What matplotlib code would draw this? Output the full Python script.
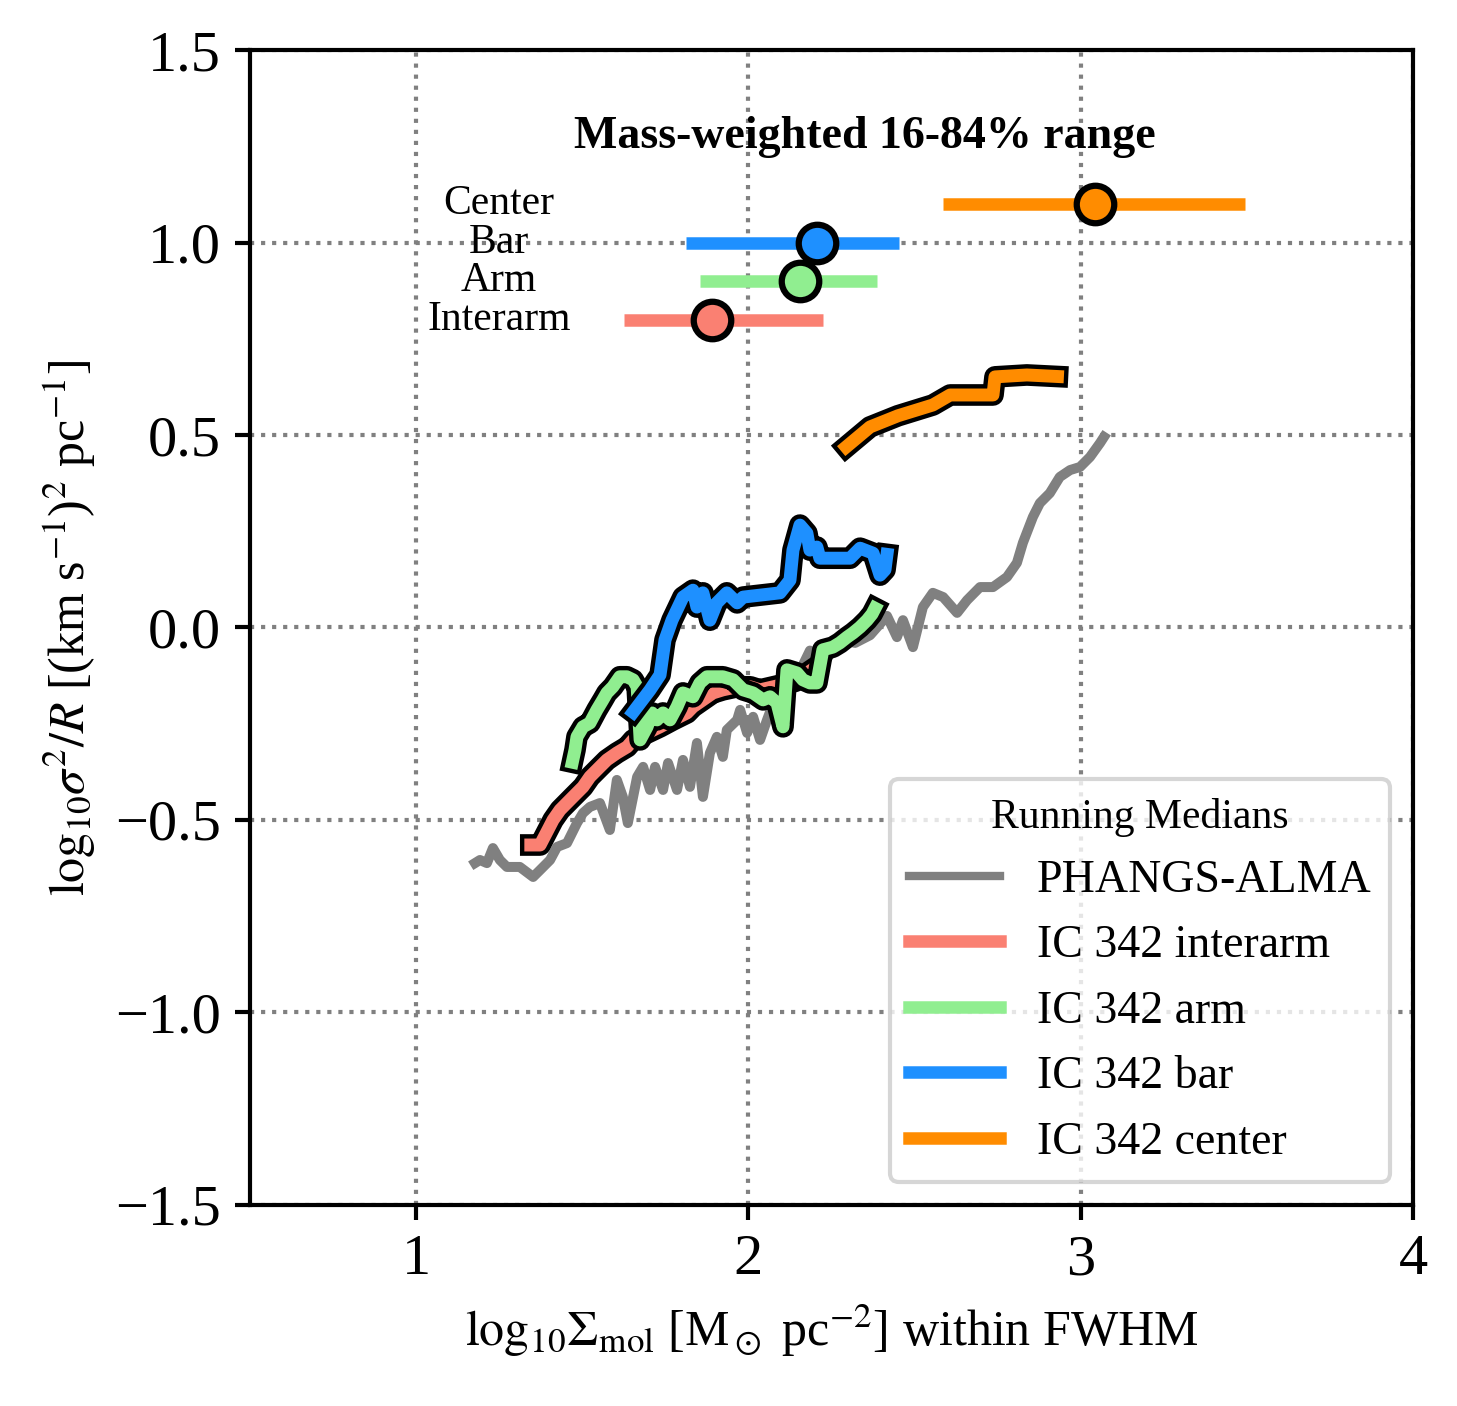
import matplotlib
matplotlib.use("Agg")
import matplotlib.pyplot as plt
import matplotlib.patheffects as pe
from matplotlib.lines import Line2D

plt.rcParams["font.family"] = ["Liberation Serif", "DejaVu Serif"]
plt.rcParams["mathtext.fontset"] = "stix"

# running medians
phangs_x = [1.177, 1.192, 1.213, 1.231, 1.252, 1.273, 1.312, 1.352, 1.373, 1.403, 1.424,
            1.454, 1.484, 1.502, 1.523, 1.553, 1.583, 1.604, 1.622, 1.637, 1.665,
            1.683, 1.704, 1.719, 1.743, 1.758, 1.785, 1.803, 1.824, 1.845, 1.863,
            1.884, 1.905, 1.923, 1.935, 1.966, 1.975, 1.996, 2.014, 2.035, 2.056,
            2.095, 2.140, 2.185, 2.230, 2.275, 2.321, 2.366, 2.417, 2.447, 2.465,
            2.495, 2.525, 2.555, 2.586, 2.628, 2.658, 2.697, 2.736, 2.778, 2.808,
            2.826, 2.856, 2.877, 2.907, 2.937, 2.968, 2.998, 3.028, 3.058, 3.070]
phangs_y = [-0.612, -0.604, -0.612, -0.573, -0.604, -0.622, -0.622, -0.648, -0.630, -0.604, -0.570,
            -0.560, -0.508, -0.482, -0.466, -0.456, -0.526, -0.396, -0.440, -0.508, -0.388,
            -0.362, -0.422, -0.362, -0.422, -0.352, -0.422, -0.344, -0.414, -0.300, -0.440,
            -0.326, -0.284, -0.336, -0.266, -0.240, -0.214, -0.274, -0.232, -0.292, -0.240,
            -0.150, -0.140, -0.060, -0.090, -0.030, -0.040, -0.020, 0.030, -0.025, 0.019,
            -0.051, 0.053, 0.090, 0.079, 0.038, 0.071, 0.105, 0.105, 0.131, 0.168,
            0.220, 0.287, 0.323, 0.349, 0.391, 0.409, 0.417, 0.443, 0.479, 0.495]

interarm_x = [1.345, 1.373, 1.412, 1.433, 1.472, 1.502, 1.523, 1.553, 1.574, 1.604,
              1.635, 1.653, 1.695, 1.734, 1.773, 1.815, 1.833, 1.863, 1.893, 1.923,
              1.966, 2.005, 2.035, 2.095, 2.140, 2.191]
interarm_y = [-0.565, -0.565, -0.500, -0.474, -0.440, -0.414, -0.388, -0.362, -0.344, -0.326,
              -0.310, -0.292, -0.274, -0.258, -0.240, -0.222, -0.206, -0.188, -0.170, -0.162,
              -0.154, -0.154, -0.162, -0.150, -0.140, -0.110]

arm_x = [1.470, 1.478, 1.484, 1.502, 1.523, 1.544, 1.562, 1.574, 1.592, 1.613,
         1.634, 1.653, 1.665, 1.674, 1.695, 1.710, 1.725, 1.743, 1.764, 1.785,
         1.803, 1.833, 1.854, 1.875, 1.923, 1.954, 1.984, 2.014, 2.044, 2.065,
         2.086, 2.104, 2.116, 2.146, 2.164, 2.185, 2.206, 2.224, 2.254, 2.275,
         2.297, 2.315, 2.336, 2.357, 2.372, 2.381]
arm_y = [-0.350, -0.318, -0.284, -0.258, -0.248, -0.214, -0.188, -0.170, -0.154, -0.128,
         -0.128, -0.136, -0.154, -0.292, -0.258, -0.222, -0.240, -0.222, -0.240, -0.206,
         -0.170, -0.180, -0.144, -0.128, -0.128, -0.136, -0.162, -0.170, -0.188, -0.180,
         -0.196, -0.258, -0.110, -0.118, -0.136, -0.144, -0.144, -0.058, -0.051, -0.040,
         -0.025, -0.014, 0.001, 0.019, 0.035, 0.050]

bar_x = [1.653, 1.704, 1.734, 1.749, 1.770, 1.803, 1.833, 1.845, 1.863, 1.884,
         1.905, 1.935, 1.966, 1.984, 2.095, 2.125, 2.134, 2.155, 2.176, 2.185,
         2.206, 2.215, 2.306, 2.336, 2.375, 2.396, 2.411, 2.417]
bar_y = [-0.220, -0.162, -0.123, -0.032, 0.019, 0.079, 0.097, 0.053, 0.090, 0.019,
         0.064, 0.090, 0.064, 0.079, 0.090, 0.123, 0.201, 0.266, 0.245, 0.201,
         0.209, 0.180, 0.180, 0.206, 0.193, 0.136, 0.150, 0.190]

center_x = [2.294, 2.366, 2.450, 2.555, 2.607, 2.736, 2.742, 2.838, 2.930]
center_y = [0.469, 0.521, 0.550, 0.578, 0.604, 0.604, 0.651, 0.656, 0.652]

# mass-weighted 16-84% ranges
regions = ["Center", "Bar", "Arm", "Interarm"]
region_colors = ["darkorange", "dodgerblue", "lightgreen", "salmon"]
range_med = [3.043, 2.206, 2.155, 1.890]
range_lo = [2.585, 1.812, 1.854, 1.625]
range_hi = [3.494, 2.453, 2.387, 2.224]
range_y = [1.1, 1.0, 0.9, 0.8]

fig = plt.figure(figsize=(1457 / 300, 1406 / 300), dpi=300)
ax = fig.add_axes([0.1716, 0.143, 0.7982, 0.8214])

outline = [pe.Stroke(linewidth=5.2, foreground="k"), pe.Normal()]

ax.plot(phangs_x, phangs_y, color="gray", lw=2.4, zorder=2)
series = [
    (interarm_x, interarm_y, "salmon", "IC 342 interarm"),
    (arm_x, arm_y, "lightgreen", "IC 342 arm"),
    (bar_x, bar_y, "dodgerblue", "IC 342 bar"),
    (center_x, center_y, "darkorange", "IC 342 center"),
]
handles = [Line2D([], [], color="gray", lw=2, label="PHANGS-ALMA")]
for xs, ys, c, lab in series:
    line, = ax.plot(xs, ys, color=c, lw=3.1, zorder=3)
    line.set_path_effects(outline)
    handles.append(Line2D([], [], color=c, lw=3, label=lab))

for name, c, m, lo, hi, y in zip(regions, region_colors, range_med, range_lo, range_hi, range_y):
    ax.errorbar([m], [y], xerr=[[m - lo], [hi - m]], fmt="o", color=c, ecolor=c,
                elinewidth=3, capsize=0, ms=9, mec="k", mew=1.5, zorder=4)
    ax.text(1.25, y, name, ha="center", va="center", fontsize=10)

ax.text(2.35, 1.275, "Mass-weighted 16-84% range", ha="center", va="center",
        fontsize=11, fontweight="bold")

ax.set_xlim(0.5, 4)
ax.set_ylim(-1.5, 1.5)
ax.set_xticks([1, 2, 3, 4])
ax.set_yticks([-1.5, -1.0, -0.5, 0.0, 0.5, 1.0, 1.5])
ax.tick_params(labelsize=14, width=1)
for sp in ax.spines.values():
    sp.set_linewidth(1)
ax.grid(True, ls=":", color="gray", lw=1)

ax.set_xlabel(r"$\mathrm{log}_{10}\Sigma_{\rm mol}$ [M$_\odot$ pc$^{-2}$] within FWHM", fontsize=12)
ax.set_ylabel(r"$\mathrm{log}_{10}\sigma^2/R$ [(km s$^{-1}$)$^2$ pc$^{-1}$]", fontsize=12)

ax.legend(handles=handles, loc="lower right", fontsize=11,
          title="Running Medians", title_fontsize=10)

fig.savefig("out.png", dpi=300)
